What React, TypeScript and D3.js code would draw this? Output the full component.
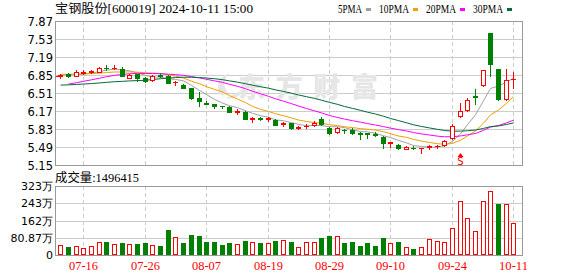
import React from "react";
import * as d3 from "d3";

const title = "宝钢股份[600019] 2024-10-11 15:00";
const volTitle = "成交量:1496415";
const watermark = "东方财富";

const dates = ["07-11","07-12","07-15","07-16","07-17","07-18","07-19","07-22","07-23","07-24","07-25","07-26","07-29","07-30","07-31","08-01","08-02","08-05","08-06","08-07","08-08","08-09","08-12","08-13","08-14","08-15","08-16","08-19","08-20","08-21","08-22","08-23","08-26","08-27","08-28","08-29","08-30","09-02","09-03","09-04","09-05","09-06","09-09","09-10","09-11","09-12","09-13","09-18","09-19","09-20","09-23","09-24","09-25","09-26","09-27","09-30","10-08","10-09","10-10","10-11"];

const openP = [6.83,6.86,6.84,6.89,6.90,6.91,6.99,6.98,6.97,6.80,6.86,6.80,6.75,6.85,6.84,6.71,6.67,6.60,6.42,6.33,6.30,6.27,6.25,6.16,6.16,6.01,6.03,6.02,6.00,5.92,5.94,5.85,5.88,5.91,6.02,5.84,5.77,5.82,5.82,5.76,5.75,5.73,5.68,5.56,5.53,5.46,5.48,5.47,5.49,5.50,5.52,5.66,6.07,6.19,6.45,6.66,7.65,6.96,6.40,6.77];
const highP = [6.87,6.88,6.94,6.94,6.95,7.01,7.03,7.03,7.00,6.86,6.87,6.81,6.85,6.88,6.85,6.74,6.68,6.61,6.52,6.35,6.31,6.27,6.26,6.20,6.17,6.05,6.05,6.05,6.02,5.96,5.95,5.88,5.92,5.98,6.05,5.86,5.87,5.83,5.84,5.77,5.76,5.77,5.69,5.59,5.54,5.50,5.51,5.48,5.53,5.52,5.63,5.92,6.32,6.42,6.58,6.95,7.65,6.96,6.96,6.91];
const lowP = [6.80,6.82,6.83,6.86,6.89,6.90,6.95,6.96,6.84,6.79,6.74,6.72,6.74,6.82,6.69,6.67,6.60,6.40,6.27,6.30,6.22,6.22,6.15,6.12,6.02,5.97,6.00,5.98,5.90,5.88,5.83,5.83,5.84,5.88,5.90,5.74,5.76,5.76,5.74,5.65,5.66,5.70,5.48,5.49,5.46,5.45,5.46,5.38,5.45,5.47,5.51,5.64,6.05,6.17,6.30,6.64,6.83,6.38,6.38,6.61];
const closeP = [6.85,6.84,6.90,6.91,6.93,6.99,6.98,6.99,6.84,6.85,6.79,6.74,6.84,6.83,6.70,6.72,6.61,6.41,6.35,6.31,6.27,6.26,6.16,6.17,6.02,6.03,6.02,6.03,5.91,5.94,5.85,5.86,5.89,5.95,5.92,5.75,5.85,5.81,5.75,5.74,5.73,5.72,5.57,5.58,5.48,5.49,5.47,5.48,5.50,5.51,5.61,5.89,6.17,6.38,6.44,6.94,7.05,6.40,6.76,6.78];
const volumes = [469000,375000,420000,330000,420000,610000,610000,516000,578000,516000,516000,578000,469000,420000,1170000,830000,578000,938000,890000,610000,610000,469000,578000,516000,656000,610000,578000,560000,656000,703000,610000,359000,610000,610000,797000,890000,890000,578000,610000,420000,578000,420000,797000,578000,610000,359000,280000,359000,734000,656000,610000,1250000,2530000,1720000,1125000,2530000,3000000,2390000,2390000,1496415];
// closes of the 29 sessions before 07-11 (estimated from where the averages start)
const priorCloses = [6.70,6.68,6.67,6.66,6.65,6.64,6.63,6.62,6.61,6.60,6.58,6.40,6.38,6.36,6.38,6.42,6.46,6.52,6.58,6.64,6.80,6.85,6.89,6.88,6.90,6.87,6.88,6.85,6.83];

const priceTicks = [7.87, 7.53, 7.19, 6.85, 6.51, 6.17, 5.83, 5.49, 5.15];
const volMax = 3234800;
const volTickValues = [0, 808700, 1617400, 2426100, 3234800];
const volTickLabels = ["0", "80.87万", "162万", "243万", "323万"];
const dateTicks = ["07-16","07-26","08-07","08-19","08-29","09-10","09-24","10-11"];

const maPeriods = [5, 10, 20, 30];
const maNames = ["5PMA", "10PMA", "20PMA", "30PMA"];
const maColors = ["#a0a0a0", "#f0a000", "#ff00ff", "#006b38"];
const maStart = [0, 0, 1, 0];

const signalDate = "09-25";
const signalText = "S";
const markPrice = 6.84;

const W = 578, H = 276;
const L = 55, R = 522, MT = 21, MB = 165, VT = 186, VB = 255;
const RED = "#ff0000", GREEN = "#008000";

function sma(n: number): number[] {
  const all = priorCloses.concat(closeP);
  const P = priorCloses.length;
  return closeP.map((_, i) => d3.mean(all.slice(P + i - n + 1, P + i + 1)) as number);
}

export default function App() {
  const x = d3.scalePoint<string>().domain(dates).range([60.3, 513.3]);
  const y = d3.scaleLinear().domain([5.15, 7.87]).range([MB, MT]);
  const yv = d3.scaleLinear().domain([0, volMax]).range([VB, VT]);
  const cx = (d: string) => Math.round(x(d) as number);

  const mas = maPeriods.map((n) => sma(n));

  const candleColor = (i: number) => {
    const o = openP[i], c = closeP[i];
    if (c > o) return RED;
    if (c < o) return GREEN;
    return i > 0 && c < closeP[i - 1] ? GREEN : RED;
  };
  const volColor = (i: number) => {
    const prev = i > 0 ? closeP[i - 1] : priorCloses[priorCloses.length - 1];
    return closeP[i] >= prev ? RED : GREEN;
  };

  // legend layout
  const legendItems: { tx: number; rx: number; name: string; color: string }[] = [];
  let lx = 338;
  maNames.forEach((n, k) => {
    const tw = n.length * 6;
    legendItems.push({ tx: lx, rx: lx + tw + 4, name: n, color: maColors[k] });
    lx = lx + tw + 4 + 5 + 8;
  });

  const serif = "'Liberation Serif', 'Noto Sans CJK SC', serif";
  const sans = "'DejaVu Sans', sans-serif";

  return (
    <svg width={W} height={H} style={{ position: "absolute", left: 0, top: 0, background: "#fff" }}
      xmlns="http://www.w3.org/2000/svg">
      <rect x={0} y={0} width={W} height={H} fill="#fff" />
      {/* title & legend */}
      <text x={55} y={13} fontFamily={serif} fontSize={12} fill="#000" textLength={198} lengthAdjust="spacingAndGlyphs">{title}</text>
      {legendItems.map((it) => (
        <g key={it.name}>
          <text x={it.tx} y={13} fontFamily={serif} fontSize={12} fill="#000" textLength={it.name.length * 6} lengthAdjust="spacingAndGlyphs">{it.name}</text>
          <rect x={it.rx} y={8} width={5} height={3} fill={it.color} />
        </g>
      ))}

      {/* main grid */}
      {priceTicks.map((t) => (
        <line key={"g" + t} x1={L} x2={R} y1={Math.round(y(t)) + 0.5} y2={Math.round(y(t)) + 0.5} stroke="#cccccc" />
      ))}
      {dateTicks.map((d) => (
        <g key={"v" + d}>
          <line x1={cx(d) + 0.5} x2={cx(d) + 0.5} y1={MT} y2={MB} stroke="#cccccc" strokeDasharray="4,3" />
          <line x1={cx(d) + 0.5} x2={cx(d) + 0.5} y1={VT} y2={VB} stroke="#cccccc" strokeDasharray="4,3" />
        </g>
      ))}
      {yv.ticks && volTickValues.map((t) => (
        <line key={"vg" + t} x1={L} x2={R} y1={Math.round(yv(t)) + 0.5} y2={Math.round(yv(t)) + 0.5} stroke="#cccccc" />
      ))}

      {/* watermark */}
      <g fill="#e6e6e6">
        <path d="M222,96 C214,88 218,76 230,73 C224,78 222,86 228,92 Z" />
        <path d="M226,98 C236,100 244,94 246,86 C240,92 232,95 226,98 Z" />
        <text x={238} y={97} fontFamily="'Noto Sans CJK SC', sans-serif" fontWeight={900} fontSize={27} textLength={140} lengthAdjust="spacing">{watermark}</text>
      </g>

      {/* axes labels */}
      {priceTicks.map((t) => (
        <text key={"yl" + t} x={53} y={Math.round(y(t)) + 0.5} dy="0.36em" textAnchor="end" fontFamily={sans} fontSize={11.5} fill="#000">{t.toFixed(2)}</text>
      ))}
      {volTickValues.map((t, k) => (
        <text key={"vl" + t} x={53} y={Math.round(yv(t)) + 0.5} dy="0.36em" textAnchor="end" fontFamily={sans} fontSize={11} fill="#000">{volTickLabels[k]}</text>
      ))}
      {dateTicks.map((d) => (
        <text key={"dl" + d} x={cx(d) + 0.5} y={269.5} textAnchor="middle" fontFamily={serif} fontSize={12} fill={RED} textLength={29} lengthAdjust="spacingAndGlyphs">{d}</text>
      ))}
      <text x={55} y={182} fontFamily={serif} fontSize={12} fill="#000" textLength={84} lengthAdjust="spacingAndGlyphs">{volTitle}</text>

      {/* MA lines */}
      {mas.map((vals, k) => {
        const line = d3.line<number>()
          .x((_, i) => cx(dates[i + maStart[k]]) + 0.5)
          .y((v) => y(v));
        return <path key={"ma" + k} d={line(vals.slice(maStart[k])) || ""} fill="none" stroke={maColors[k]} strokeWidth={1} />;
      })}

      {/* candles */}
      {dates.map((d, i) => {
        const c = cx(d);
        const col = candleColor(i);
        const yO = y(openP[i]), yC = y(closeP[i]);
        const top = Math.round(Math.min(yO, yC));
        const bot = Math.round(Math.max(yO, yC));
        const yH = Math.round(y(highP[i]));
        const yL = Math.round(y(lowP[i]));
        let body;
        if (bot - top < 1) {
          body = <rect x={c - 2} y={top} width={5} height={1} fill={col} />;
        } else if (col === RED) {
          body = <rect x={c - 1.5} y={top + 0.5} width={4} height={bot - top} fill="#fff" stroke={RED} />;
        } else {
          body = <rect x={c - 2} y={top} width={5} height={bot - top + 1} fill={GREEN} />;
        }
        return (
          <g key={"c" + d}>
            <line x1={c + 0.5} x2={c + 0.5} y1={yH} y2={yL + 1} stroke={col} />
            {body}
          </g>
        );
      })}

      {/* volume bars */}
      {dates.map((d, i) => {
        const c = cx(d);
        const col = volColor(i);
        const top = Math.round(yv(volumes[i]));
        return col === RED ? (
          <rect key={"v" + d} x={c - 1.5} y={top + 0.5} width={4} height={VB - 1 - top} fill="#fff" stroke={RED} />
        ) : (
          <rect key={"v" + d} x={c - 2} y={top} width={5} height={VB - top} fill={GREEN} />
        );
      })}

      {/* signal */}
      <path d={`M${cx(signalDate) + 0.5},153 L${cx(signalDate) + 3.5},157 L${cx(signalDate) - 2.5},157 Z`} fill={RED} />
      <text x={cx(signalDate) + 0.5} y={165} textAnchor="middle" fontFamily={sans} fontSize={10} fill={RED}>{signalText}</text>

      {/* last-price mark */}
      <rect x={56} y={Math.round(y(markPrice))} width={3} height={1} fill={RED} />

      {/* borders */}
      <rect x={L + 0.5} y={MT + 0.5} width={R - L} height={MB - MT} fill="none" stroke="#999" />
      <rect x={L + 0.5} y={VT + 0.5} width={R - L} height={VB - VT} fill="none" stroke="#999" />
    </svg>
  );
}
